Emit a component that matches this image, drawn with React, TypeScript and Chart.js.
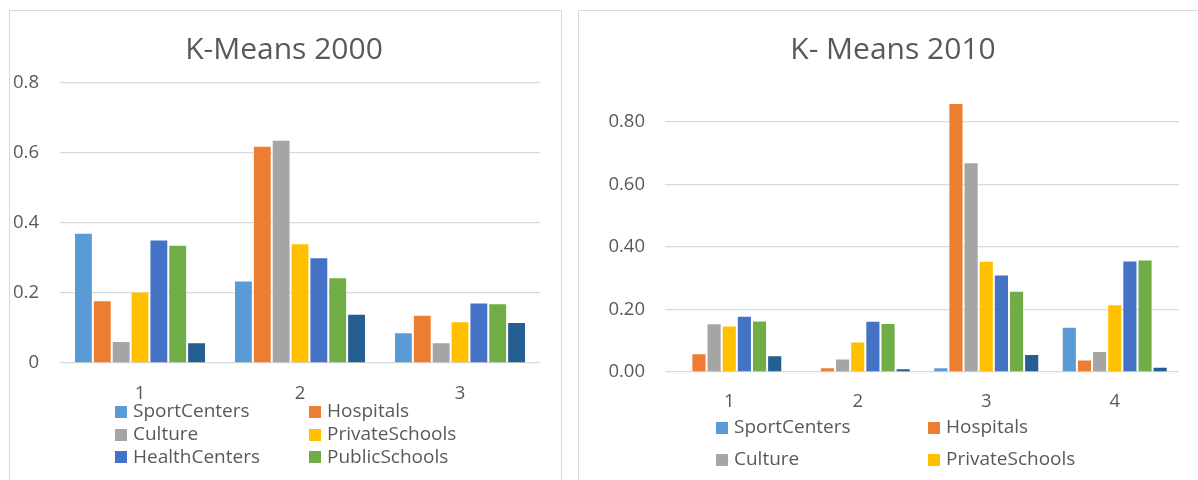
import React, { useEffect, useRef } from 'react';
import { Chart, registerables } from 'chart.js';

Chart.register(...registerables);

const FONT = '"Open Sans", "Noto Sans", sans-serif';
const TEXT = '#595959';
const GRID = '#d9d9d9';

const seriesNames = ['SportCenters', 'Hospitals', 'Culture', 'PrivateSchools', 'HealthCenters', 'PublicSchools', 'Series7'];
const seriesColors = ['#5B9BD5', '#ED7D31', '#A5A5A5', '#FFC000', '#4472C4', '#70AD47', '#255E91'];

// K-Means 2000
const clusters2000 = ['1', '2', '3'];
const sportCenters2000 = [0.372, 0.236, 0.088];
const hospitals2000 = [0.179, 0.621, 0.138];
const culture2000 = [0.063, 0.638, 0.059];
const privateSchools2000 = [0.204, 0.342, 0.119];
const healthCenters2000 = [0.353, 0.302, 0.173];
const publicSchools2000 = [0.338, 0.245, 0.171];
const series7_2000 = [0.059, 0.141, 0.117];

// K-Means 2010
const clusters2010 = ['1', '2', '3', '4'];
const sportCenters2010 = [0, 0, 0.015, 0.145];
const hospitals2010 = [0.06, 0.015, 0.861, 0.04];
const culture2010 = [0.156, 0.043, 0.671, 0.067];
const privateSchools2010 = [0.149, 0.098, 0.356, 0.217];
const healthCenters2010 = [0.18, 0.164, 0.312, 0.357];
const publicSchools2010 = [0.165, 0.157, 0.26, 0.36];
const series7_2010 = [0.054, 0.012, 0.058, 0.017];

const values2000 = [sportCenters2000, hospitals2000, culture2000, privateSchools2000, healthCenters2000, publicSchools2000, series7_2000];
const values2010 = [sportCenters2010, hospitals2010, culture2010, privateSchools2010, healthCenters2010, publicSchools2010, series7_2010];

const gridLegend = {
  id: 'gridLegend',
  afterDraw(chart: any, _args: any, opts: any) {
    const ctx = chart.ctx;
    ctx.save();
    ctx.font = `${opts.fontSize}px ${FONT}`;
    ctx.textBaseline = 'middle';
    ctx.textAlign = 'left';
    chart.data.datasets.forEach((ds: any, i: number) => {
      const row = Math.floor(i / 2);
      const col = i % 2;
      if (row >= opts.rows) return;
      const x = opts.cols[col];
      const y = opts.top + row * opts.rowGap;
      ctx.fillStyle = ds.backgroundColor;
      ctx.fillRect(x, Math.round(y - opts.box / 2), opts.box, opts.box);
      ctx.fillStyle = TEXT;
      ctx.fillText(ds.label, x + opts.box + opts.gap, y);
    });
    ctx.restore();
  },
};

function makeDatasets(values: number[][]) {
  return values.map((v, i) => ({
    label: seriesNames[i],
    data: v,
    backgroundColor: seriesColors[i],
    borderColor: 'rgba(255,255,255,0.55)',
    borderWidth: 1,
    categoryPercentage: 0.825,
    barPercentage: 1.0,
  }));
}

function BarPanel(props: { cfg: any; width: number; height: number }) {
  const ref = useRef<HTMLCanvasElement>(null);
  useEffect(() => {
    const chart = new Chart(ref.current as HTMLCanvasElement, props.cfg);
    return () => chart.destroy();
  }, []);
  return <canvas ref={ref} width={props.width} height={props.height} style={{ display: 'block', width: props.width, height: props.height }} />;
}

const tickFont = { family: FONT, size: 18.5 };

// invisible right-hand spacer axis
function spacer(width: number) {
  return {
    type: 'linear',
    position: 'right',
    display: true,
    grid: { display: false, drawTicks: false },
    border: { display: false },
    ticks: { display: false },
    afterFit: (s: any) => { s.width = width; },
  };
}

const cfg2000 = {
  type: 'bar',
  data: { labels: clusters2000, datasets: makeDatasets(values2000) },
  plugins: [gridLegend],
  options: {
    animation: false,
    responsive: false,
    layout: { padding: { top: 10, left: 0, right: 3, bottom: 72 } },
    plugins: {
      legend: { display: false },
      tooltip: { enabled: false },
      title: {
        display: true,
        text: 'K-Means 2000',
        color: TEXT,
        font: { family: FONT, size: 30, weight: 'normal' },
        padding: { top: 11, bottom: 15 },
      },
      gridLegend: { cols: [105, 299], top: 401, rowGap: 22.7, rows: 3, box: 12, gap: 6, fontSize: 19 },
    },
    scales: {
      x: {
        grid: { display: false },
        border: { display: false },
        ticks: { color: TEXT, font: tickFont, padding: 12 },
        afterFit: (s: any) => { s.height = 45; },
      },
      y: {
        min: 0,
        max: 0.8,
        ticks: {
          stepSize: 0.2,
          padding: 21,
          color: TEXT,
          font: tickFont,
          callback: (v: any) => (Math.abs(v) < 1e-9 ? '0' : Number(v).toFixed(1)),
        },
        grid: { color: GRID, drawTicks: false, lineWidth: 1.2 },
        border: { display: false },
        afterFit: (s: any) => { s.width = 50; },
      },
      ySpacer: spacer(18),
    },
  },
};

const cfg2010 = {
  type: 'bar',
  data: { labels: clusters2010, datasets: makeDatasets(values2010) },
  plugins: [gridLegend],
  options: {
    animation: false,
    responsive: false,
    layout: { padding: { top: 10, left: 9, right: 0, bottom: 63 } },
    plugins: {
      legend: { display: false },
      tooltip: { enabled: false },
      title: {
        display: true,
        text: 'K- Means 2010',
        color: TEXT,
        font: { family: FONT, size: 30, weight: 'normal' },
        padding: { top: 11, bottom: 22.75 },
      },
      gridLegend: { cols: [137, 349], top: 417, rowGap: 31.5, rows: 2, box: 12, gap: 6, fontSize: 19 },
    },
    scales: {
      x: {
        grid: { display: false },
        border: { display: false },
        ticks: { color: TEXT, font: tickFont, padding: 11 },
        afterFit: (s: any) => { s.height = 45; },
      },
      y: {
        min: 0,
        max: 0.9,
        afterBuildTicks: (s: any) => { s.ticks = s.ticks.filter((t: any) => t.value <= 0.8 + 1e-9); },
        ticks: {
          stepSize: 0.2,
          padding: 20,
          color: TEXT,
          font: tickFont,
          callback: (v: any) => Number(v).toFixed(2),
        },
        grid: { color: GRID, drawTicks: false, lineWidth: 1.2 },
        border: { display: false },
        afterFit: (s: any) => { s.width = 77; },
      },
      ySpacer: spacer(19),
    },
  },
};

export default function App() {
  return (
    <div style={{ position: 'fixed', left: 0, top: 0, width: 1198, height: 480, overflow: 'hidden', background: '#fff' }}>
      <div style={{ position: 'absolute', left: 9, top: 10, width: 553, height: 480, border: '1px solid #d9d9d9', boxSizing: 'border-box' }}>
        <BarPanel cfg={cfg2000} width={551} height={469} />
      </div>
      <div style={{ position: 'absolute', left: 578, top: 10, width: 660, height: 480, border: '1px solid #d9d9d9', boxSizing: 'border-box' }}>
        <BarPanel cfg={cfg2010} width={619} height={469} />
      </div>
    </div>
  );
}
